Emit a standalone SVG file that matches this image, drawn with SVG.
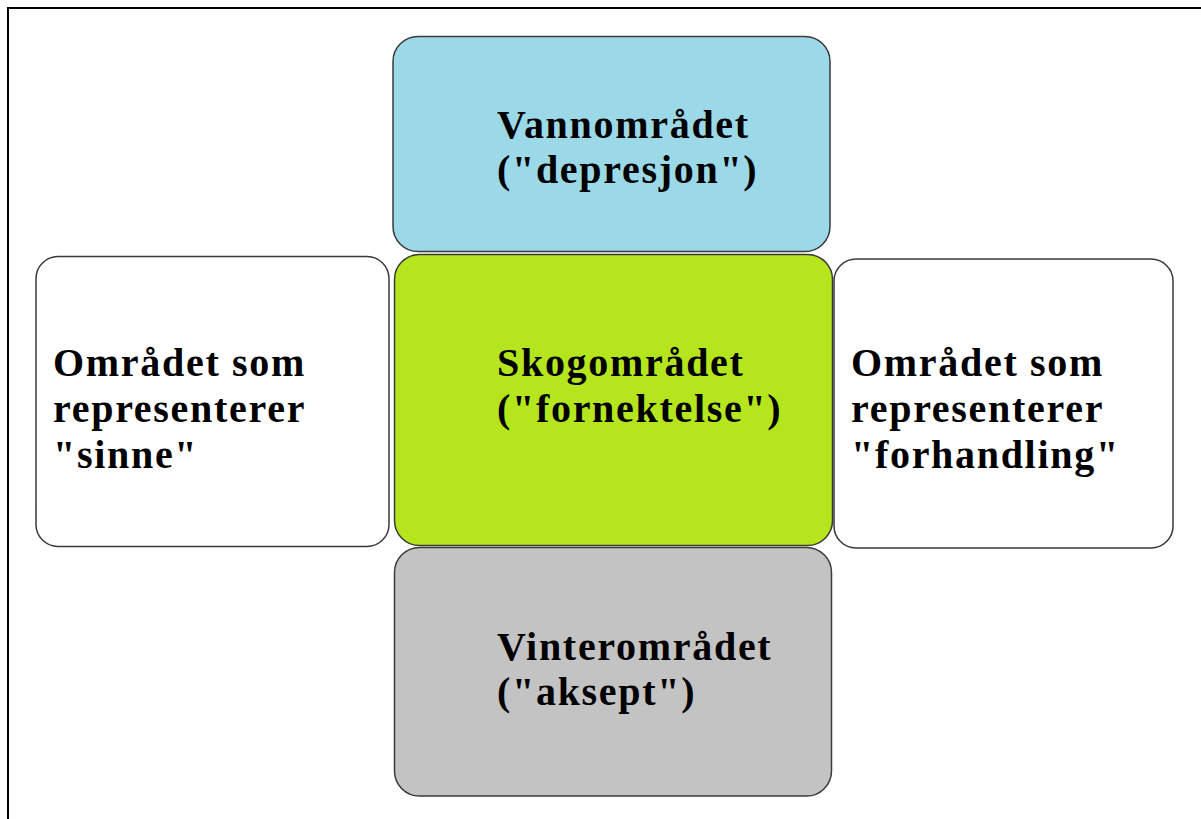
<svg xmlns="http://www.w3.org/2000/svg" width="1201" height="819" viewBox="0 0 1201 819">
<style>
.box{stroke:#3a3a3a;stroke-width:1.5}
.t{font-family:"Liberation Serif","Times New Roman",serif;font-weight:bold;font-size:40px;letter-spacing:1.7px;fill:#000}
</style>
<rect x="0" y="0" width="1201" height="819" fill="#fff"/>
<rect x="8" y="8" width="1400" height="1000" fill="none" stroke="#000" stroke-width="2"/>
<g id="top">
<rect class="box" x="393" y="36.5" width="437" height="215" rx="25" fill="#9cd9e8"/>
<text class="t" x="497" y="138">Vannområdet</text>
<text class="t" x="497" y="183">("depresjon")</text>
</g>
<g id="left">
<rect class="box" x="36" y="256.5" width="353" height="290" rx="22" fill="#fff"/>
<text class="t" x="53" y="376">Området som</text>
<text class="t" x="53" y="422">representerer</text>
<text class="t" x="53" y="468">"sinne"</text>
</g>
<g id="right">
<rect class="box" x="834" y="259" width="339" height="289" rx="22" fill="#fff"/>
<text class="t" x="851" y="376">Området som</text>
<text class="t" x="851" y="422">representerer</text>
<text class="t" x="851" y="468">"forhandling"</text>
</g>
<g id="center">
<rect class="box" x="394.5" y="254.5" width="438" height="291" rx="25" fill="#b5e61d" stroke="#111"/>
<text class="t" x="497" y="376">Skogområdet</text>
<text class="t" x="497" y="422">("fornektelse")</text>
</g>
<g id="bottom">
<rect class="box" x="394.5" y="547.5" width="437" height="248.5" rx="25" fill="#c3c3c3"/>
<text class="t" x="497" y="660">Vinterområdet</text>
<text class="t" x="497" y="705">("aksept")</text>
</g>
<g id="connectors"/>
</svg>
